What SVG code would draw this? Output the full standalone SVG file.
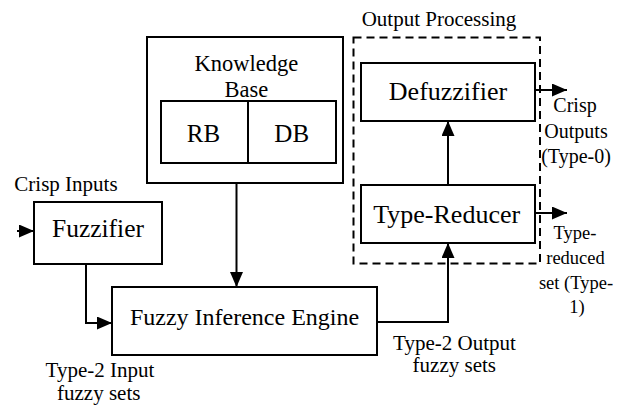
<svg xmlns="http://www.w3.org/2000/svg" width="617" height="405" viewBox="0 0 617 405">
  <defs>
    <marker id="head" markerUnits="userSpaceOnUse" markerWidth="15" markerHeight="13" refX="15" refY="6.5" orient="auto">
      <path d="M0,0 L15,6.5 L0,13 z" fill="#000"/>
    </marker>
  </defs>
  <rect width="617" height="405" fill="#fff"/>

  <!-- connectors: plain 2px black wires ending in filled arrowheads -->
  <g id="connectors" fill="none" stroke="#000" stroke-width="2" marker-end="url(#head)">
    <path d="M17,231 L34,231"/>
    <path d="M86,264 L86,323 L112,323"/>
    <path d="M236.5,184 L236.5,287"/>
    <path d="M377,322 L448,322 L448,243"/>
    <path d="M448,185 L448,121"/>
    <path d="M536,90 L567,90"/>
    <path d="M536,213 L567,213"/>
  </g>

  <g font-family="Times New Roman, Liberation Serif, serif" fill="#000" text-anchor="middle">
    <!-- output processing group outline -->
    <g id="output-processing">
      <rect x="353.5" y="37.5" width="186.5" height="226" fill="none" stroke="#000" stroke-width="2" stroke-dasharray="8 5"/>
      <text x="439" y="26" font-size="21">Output Processing</text>
    </g>

    <g id="crisp-inputs">
      <text x="66" y="191" font-size="21">Crisp Inputs</text>
    </g>

    <g id="fuzzifier">
      <rect x="34" y="202" width="128" height="62" fill="#fff" stroke="#000" stroke-width="2"/>
      <text x="98" y="237" font-size="25.5">Fuzzifier</text>
    </g>

    <g id="knowledge-base">
      <rect x="147" y="37" width="196" height="146" fill="#fff" stroke="#000" stroke-width="2"/>
      <text x="246.3" y="71" font-size="22.5">Knowledge</text>
      <text x="246.3" y="97" font-size="22.5">Base</text>
    </g>

    <g id="rb">
      <rect x="161" y="101" width="87" height="62" fill="#fff" stroke="#000" stroke-width="2"/>
      <text x="203.5" y="141.5" font-size="25">RB</text>
    </g>

    <g id="db">
      <rect x="248" y="101" width="88" height="62" fill="#fff" stroke="#000" stroke-width="2"/>
      <text x="291.7" y="141.5" font-size="25">DB</text>
    </g>

    <g id="inference-engine">
      <rect x="112" y="287" width="265" height="68" fill="#fff" stroke="#000" stroke-width="2"/>
      <text x="244.5" y="325" font-size="24">Fuzzy Inference Engine</text>
    </g>

    <g id="defuzzifier">
      <rect x="361" y="63" width="174" height="58" fill="#fff" stroke="#000" stroke-width="2"/>
      <text x="448" y="100" font-size="26">Defuzzifier</text>
    </g>

    <g id="type-reducer">
      <rect x="361" y="185" width="174" height="58" fill="#fff" stroke="#000" stroke-width="2"/>
      <text x="446.7" y="223" font-size="26">Type-Reducer</text>
    </g>

    <g id="crisp-outputs">
      <text x="575" y="112" font-size="20">Crisp</text>
      <text x="576" y="137.5" font-size="20">Outputs</text>
      <text x="576" y="163" font-size="20">(Type-0)</text>
    </g>

    <g id="type-reduced-set">
      <text x="575" y="239" font-size="18.5">Type-</text>
      <text x="575.5" y="264" font-size="18.5">reduced</text>
      <text x="576" y="288.5" font-size="18.5">set (Type-</text>
      <text x="577" y="313" font-size="18.5">1)</text>
    </g>

    <g id="type2-output-sets">
      <text x="454.5" y="350" font-size="21">Type-2 Output</text>
      <text x="454.3" y="372" font-size="21">fuzzy sets</text>
    </g>

    <g id="type2-input-sets">
      <text x="100" y="377" font-size="21">Type-2 Input</text>
      <text x="98.7" y="400" font-size="21">fuzzy sets</text>
    </g>
  </g>
</svg>
